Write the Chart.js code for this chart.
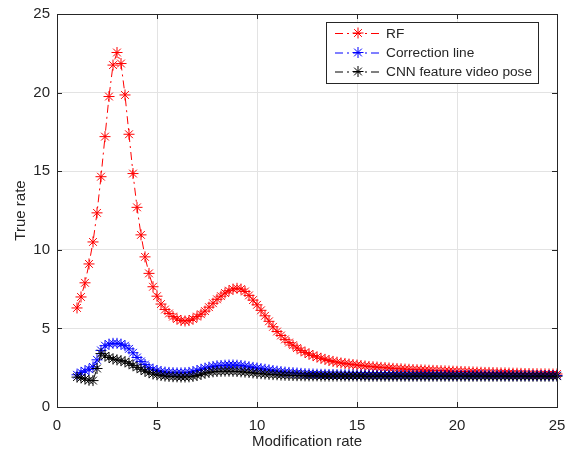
<!DOCTYPE html>
<html>
<head>
<meta charset="utf-8">
<script src="https://cdn.jsdelivr.net/npm/chart.js@4"></script>
<style>
  html, body { margin: 0; padding: 0; background: #fff; }
  #wrap { width: 566px; height: 455px; }
</style>
</head>
<body>
<div id="wrap"><canvas id="chart" width="566" height="455"></canvas></div>
<script>
// x positions (Modification rate)
const xValues = [
    1.0, 1.2, 1.4, 1.6, 1.8, 2.0, 2.2, 2.4, 2.6, 2.8,
    3.0, 3.2, 3.4, 3.6, 3.8, 4.0, 4.2, 4.4, 4.6, 4.8,
    5.0, 5.2, 5.4, 5.6, 5.8, 6.0, 6.2, 6.4, 6.6, 6.8,
    7.0, 7.2, 7.4, 7.6, 7.8, 8.0, 8.2, 8.4, 8.6, 8.8,
    9.0, 9.2, 9.4, 9.6, 9.8, 10.0, 10.2, 10.4, 10.6, 10.8,
    11.0, 11.2, 11.4, 11.6, 11.8, 12.0, 12.2, 12.4, 12.6, 12.8,
    13.0, 13.2, 13.4, 13.6, 13.8, 14.0, 14.2, 14.4, 14.6, 14.8,
    15.0, 15.2, 15.4, 15.6, 15.8, 16.0, 16.2, 16.4, 16.6, 16.8,
    17.0, 17.2, 17.4, 17.6, 17.8, 18.0, 18.2, 18.4, 18.6, 18.8,
    19.0, 19.2, 19.4, 19.6, 19.8, 20.0, 20.2, 20.4, 20.6, 20.8,
    21.0, 21.2, 21.4, 21.6, 21.8, 22.0, 22.2, 22.4, 22.6, 22.8,
    23.0, 23.2, 23.4, 23.6, 23.8, 24.0, 24.2, 24.4, 24.6, 24.8,
    25.0
];

const rfValues = [
    6.3, 7.0, 7.9, 9.1, 10.5, 12.35, 14.65, 17.2, 19.75, 21.75,
    22.55, 21.85, 19.85, 17.35, 14.85, 12.7, 10.95, 9.55, 8.5, 7.65,
    7.05, 6.55, 6.2, 5.95, 5.75, 5.6, 5.5, 5.47, 5.5, 5.6,
    5.75, 5.9, 6.1, 6.35, 6.6, 6.85, 7.05, 7.25, 7.4, 7.5,
    7.55, 7.5, 7.35, 7.1, 6.8, 6.5, 6.15, 5.8, 5.45, 5.1,
    4.8, 4.55, 4.3, 4.1, 3.93, 3.75, 3.6, 3.47, 3.37, 3.27,
    3.18, 3.1, 3.03, 2.96, 2.9, 2.85, 2.8, 2.77, 2.73, 2.7,
    2.67, 2.64, 2.61, 2.58, 2.56, 2.54, 2.52, 2.5, 2.48, 2.46,
    2.44, 2.43, 2.41, 2.4, 2.38, 2.37, 2.36, 2.35, 2.34, 2.33,
    2.32, 2.31, 2.3, 2.29, 2.28, 2.27, 2.26, 2.25, 2.24, 2.23,
    2.22, 2.21, 2.2, 2.2, 2.19, 2.18, 2.17, 2.17, 2.16, 2.15,
    2.15, 2.14, 2.13, 2.13, 2.12, 2.12, 2.11, 2.11, 2.1, 2.1,
    2.1
];

const correctionValues = [
    2.05, 2.2, 2.3, 2.4, 2.55, 3.0, 3.6, 3.9, 4.0, 4.05,
    4.05, 4.0, 3.9, 3.7, 3.45, 3.15, 2.9, 2.7, 2.5, 2.4,
    2.32, 2.26, 2.22, 2.2, 2.18, 2.17, 2.17, 2.18, 2.2, 2.25,
    2.32, 2.4, 2.47, 2.53, 2.58, 2.62, 2.64, 2.66, 2.67, 2.67,
    2.66, 2.64, 2.6, 2.56, 2.52, 2.48, 2.44, 2.4, 2.36, 2.32,
    2.28, 2.25, 2.22, 2.2, 2.18, 2.16, 2.14, 2.12, 2.11, 2.1,
    2.09, 2.08, 2.08, 2.07, 2.07, 2.06, 2.06, 2.05, 2.05, 2.05,
    2.04, 2.04, 2.04, 2.04, 2.03, 2.03, 2.03, 2.03, 2.03, 2.03,
    2.03, 2.02, 2.02, 2.02, 2.02, 2.02, 2.02, 2.02, 2.02, 2.02,
    2.02, 2.02, 2.01, 2.01, 2.01, 2.01, 2.01, 2.01, 2.01, 2.01,
    2.01, 2.01, 2.01, 2.01, 2.01, 2.01, 2.01, 2.0, 2.0, 2.0,
    2.0, 2.0, 2.0, 2.0, 2.0, 2.0, 2.0, 2.0, 2.0, 2.0,
    2.0
];

const cnnValues = [
    1.9, 1.85, 1.78, 1.7, 1.68, 2.45, 3.4, 3.25, 3.15, 3.05,
    3.0, 2.95, 2.88, 2.78, 2.65, 2.52, 2.4, 2.28, 2.18, 2.1,
    2.05, 2.0, 1.97, 1.95, 1.93, 1.92, 1.91, 1.91, 1.92, 1.95,
    2.0, 2.08, 2.15, 2.2, 2.24, 2.26, 2.27, 2.28, 2.28, 2.27,
    2.26, 2.24, 2.22, 2.2, 2.17, 2.14, 2.12, 2.1, 2.08, 2.06,
    2.05, 2.03, 2.02, 2.01, 2.0, 1.99, 1.99, 1.98, 1.98, 1.98,
    1.98, 1.97, 1.97, 1.97, 1.97, 1.97, 1.97, 1.97, 1.97, 1.97,
    1.97, 1.97, 1.96, 1.96, 1.96, 1.96, 1.96, 1.96, 1.96, 1.96,
    1.96, 1.96, 1.96, 1.96, 1.96, 1.96, 1.96, 1.96, 1.96, 1.96,
    1.96, 1.96, 1.96, 1.96, 1.96, 1.96, 1.96, 1.96, 1.96, 1.96,
    1.96, 1.96, 1.96, 1.96, 1.96, 1.96, 1.96, 1.96, 1.96, 1.96,
    1.96, 1.96, 1.96, 1.96, 1.96, 1.96, 1.96, 1.96, 1.96, 1.96,
    1.96
];

const seriesNames = ["RF", "Correction line", "CNN feature video pose"];
const seriesColors = ["#ff0000", "#0000ff", "#000000"];
const axisTicks = [0, 5, 10, 15, 20, 25];

const axisColor = "#262626";
const fontFamily = "'Liberation Sans', Arial, Helvetica, sans-serif";
const dashDot = [8, 4, 2, 4];

function toPoints(ys) {
    return ys.map((y, i) => ({ x: xValues[i], y: y }));
}

function makeDataset(idx, ys) {
    return {
        label: seriesNames[idx],
        data: toPoints(ys),
        borderColor: seriesColors[idx],
        backgroundColor: seriesColors[idx],
        borderWidth: 1,
        borderDash: dashDot,
        pointStyle: "star",
        pointRadius: 5.5,
        pointBorderWidth: 1,
        pointBorderColor: seriesColors[idx],
        tension: 0,
        clip: false,
        order: 2 - idx,
    };
}

// frame with inward ticks, like the original figure
const framePlugin = {
    id: "frame",
    afterDatasetsDraw(chart) {
        const { ctx, chartArea: a, scales } = chart;
        ctx.save();
        ctx.strokeStyle = axisColor;
        ctx.lineWidth = 1;
        ctx.strokeRect(Math.round(a.left) + 0.5, Math.round(a.top) + 0.5,
            Math.round(a.right - a.left), Math.round(a.bottom - a.top));
        const len = 5;
        ctx.beginPath();
        axisTicks.forEach((t) => {
            const px = Math.round(scales.x.getPixelForValue(t)) + 0.5;
            ctx.moveTo(px, a.bottom); ctx.lineTo(px, a.bottom - len);
            ctx.moveTo(px, a.top); ctx.lineTo(px, a.top + len);
            const py = Math.round(scales.y.getPixelForValue(t)) + 0.5;
            ctx.moveTo(a.left, py); ctx.lineTo(a.left + len, py);
            ctx.moveTo(a.right, py); ctx.lineTo(a.right - len, py);
        });
        ctx.stroke();
        ctx.restore();
    },
    afterDraw(chart) {
        // legend box inside the plot, top right
        const { ctx } = chart;
        const box = { x: 326.5, y: 22.5, w: 212, h: 61 };
        ctx.save();
        ctx.fillStyle = "#ffffff";
        ctx.fillRect(box.x, box.y, box.w, box.h);
        ctx.strokeStyle = axisColor;
        ctx.lineWidth = 1;
        ctx.strokeRect(box.x, box.y, box.w, box.h);
        const rows = [33, 52.5, 71.5];
        chart.data.datasets.forEach((ds, i) => {
            const y = rows[i];
            ctx.strokeStyle = ds.borderColor;
            ctx.setLineDash(dashDot);
            ctx.beginPath();
            ctx.moveTo(335, y + 0.5);
            ctx.lineTo(382, y + 0.5);
            ctx.stroke();
            ctx.setLineDash([]);
            const cx = 358, r = 5.5;
            ctx.beginPath();
            for (let k = 0; k < 4; k++) {
                const ang = k * Math.PI / 4;
                ctx.moveTo(cx + Math.cos(ang) * r, y + Math.sin(ang) * r);
                ctx.lineTo(cx - Math.cos(ang) * r, y - Math.sin(ang) * r);
            }
            ctx.stroke();
            ctx.fillStyle = axisColor;
            ctx.font = "13.7px " + fontFamily;
            ctx.textBaseline = "middle";
            ctx.fillText(ds.label, 386, y + 1);
        });
        ctx.restore();
    },
};

document.addEventListener("DOMContentLoaded", function () {
    const ctx = document.getElementById("chart").getContext("2d");
    new Chart(ctx, {
        type: "line",
        data: {
            datasets: [
                makeDataset(0, rfValues),
                makeDataset(1, correctionValues),
                makeDataset(2, cnnValues),
            ],
        },
        options: {
            responsive: false,
            animation: false,
            layout: { padding: { left: 0, right: 9, top: 14, bottom: 0 } },
            plugins: {
                legend: { display: false },
                tooltip: { enabled: false },
            },
            scales: {
                x: {
                    type: "linear",
                    min: 0,
                    max: 25,
                    afterBuildTicks: (scale) => {
                        scale.ticks = axisTicks.map((v) => ({ value: v }));
                    },
                    afterFit: (scale) => {
                        scale.height = 48;
                        scale.paddingLeft = 0;
                        scale.paddingRight = 0;
                    },
                    grid: { color: "#e3e3e3", drawTicks: false },
                    border: { display: false },
                    ticks: {
                        color: axisColor,
                        padding: 10,
                        maxRotation: 0,
                        font: { family: fontFamily, size: 15 },
                    },
                    title: {
                        display: true,
                        text: "Modification rate",
                        color: axisColor,
                        font: { family: fontFamily, size: 15 },
                        padding: { top: 0, bottom: 4 },
                    },
                },
                y: {
                    type: "linear",
                    min: 0,
                    max: 25,
                    afterBuildTicks: (scale) => {
                        scale.ticks = axisTicks.map((v) => ({ value: v }));
                    },
                    afterFit: (scale) => {
                        scale.width = 57;
                        scale.paddingTop = 0;
                        scale.paddingBottom = 0;
                    },
                    grid: { color: "#e3e3e3", drawTicks: false },
                    border: { display: false },
                    ticks: {
                        color: axisColor,
                        padding: 7,
                        font: { family: fontFamily, size: 15 },
                    },
                    title: {
                        display: true,
                        text: "True rate",
                        color: axisColor,
                        font: { family: fontFamily, size: 15 },
                        padding: { top: 12, bottom: 0 },
                    },
                },
            },
        },
        plugins: [framePlugin],
    });
});
</script>
</body>
</html>
